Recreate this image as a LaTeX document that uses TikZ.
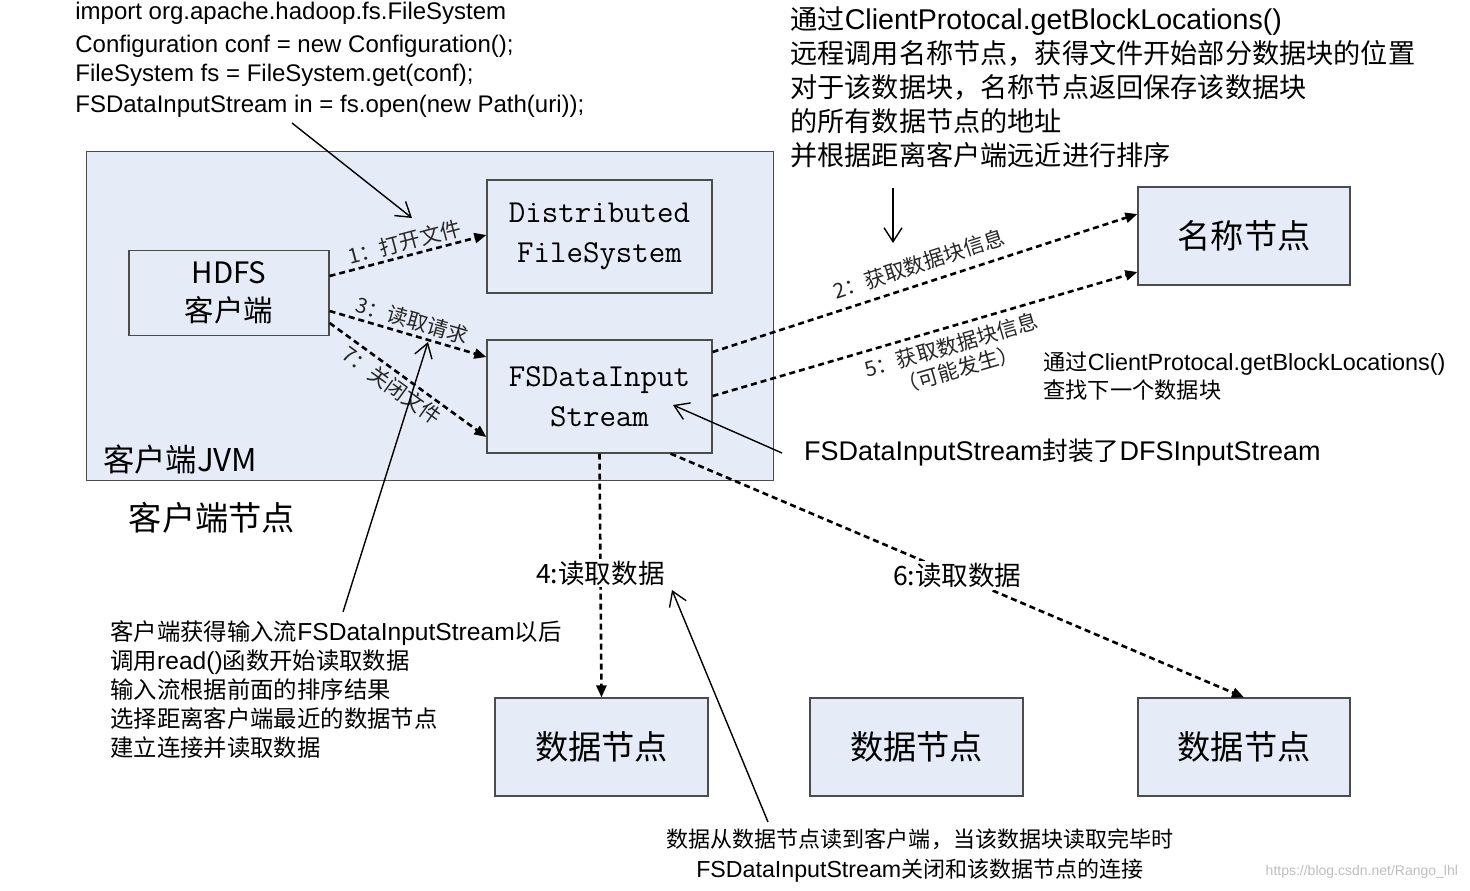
\documentclass[tikz,border=0pt]{standalone}
\usepackage{fontspec}
\setmainfont{Liberation Sans}
\newfontfamily\cjk{Noto Sans CJK SC}[Scale=0.95]
\usetikzlibrary{arrows.meta}
\definecolor{boxfill}{HTML}{E6ECF7}
\begin{document}
\begin{tikzpicture}[x=0.5pt,y=-0.5pt,
  bx/.style={draw=black!70,fill=boxfill,line width=0.6pt,inner sep=0pt},
  dsh/.style={dashed,dash pattern=on 3pt off 2pt,line width=1.3pt,-{Triangle[length=6pt,width=5pt]}},
  sol/.style={line width=0.7pt,-{Straight Barb[length=7pt,width=9pt]}},
  lab/.style={font=\cjk\fontsize{11}{12.5}\selectfont,text=black!85,inner sep=1.5pt},
  note/.style={font=\fontsize{12}{14.5}\selectfont,align=left,anchor=north west,inner sep=0pt},
  ttx/.style={font=\ttfamily\fontsize{16}{20}\selectfont,align=center}]
\useasboundingbox (0,0) rectangle (1470,890);
\fill[white] (0,0) rectangle (1470,890);
\node[bx,minimum width=343.5pt,minimum height=164.5pt,anchor=north west] (jvm) at (86,151) {};
\node[anchor=west,font=\cjk\fontsize{16.5}{18}\selectfont] (jvml) at (96,460) {客户端JVM};
\node[font=\cjk\fontsize{17.5}{18}\selectfont] (cn) at (212,518) {客户端节点};
\node[bx,minimum width=100pt,minimum height=42.5pt,align=center,font=\cjk\fontsize{15.5}{19}\selectfont] (hc) at (229,293) {HDFS\\客户端};
\node[bx,minimum width=112.5pt,minimum height=56.5pt,ttx] (dfs) at (599.5,236.5) {Distributed\\FileSystem};
\node[bx,minimum width=112.5pt,minimum height=56.5pt,ttx] (fs) at (599.5,396.5) {FSDataInput\\Stream};
\node[bx,minimum width=106pt,minimum height=49pt,font=\cjk\fontsize{17.5}{18}\selectfont] (nn) at (1244,236) {名称节点};
\node[bx,minimum width=106.5pt,minimum height=49pt,font=\cjk\fontsize{17.5}{18}\selectfont] (d1) at (601.5,747) {数据节点};
\node[bx,minimum width=106.5pt,minimum height=49pt,font=\cjk\fontsize{17.5}{18}\selectfont] (d2) at (916.5,747) {数据节点};
\node[bx,minimum width=106pt,minimum height=49pt,font=\cjk\fontsize{17.5}{18}\selectfont] (d3) at (1244,747) {数据节点};
% dashed arrows
\draw[dsh] (hc.east|-0,276) -- (dfs.west|-0,235) node[lab,midway,above,sloped] {1：打开文件};
\draw[dsh] (hc.east|-0,311) -- (fs.west|-0,357) node[lab,midway,above,sloped] {3：读取请求};
\draw[dsh] (hc.east|-0,323) -- (fs.west|-0,437) node[lab,pos=0.45,below,sloped] {7：关闭文件};
\draw[dsh] (fs.east|-0,352) -- (nn.west|-0,214) node[lab,pos=0.5,above=3pt,sloped] {2：获取数据块信息};
\draw[dsh] (fs.east|-0,396) -- (nn.west|-0,272) node[lab,pos=0.55,below=2pt,sloped,align=center] {5：获取数据块信息\\（可能发生）};
\draw[dsh] (fs.south) -- (d1.north) node[pos=0.49,fill=white,inner sep=1pt,font=\cjk\fontsize{14}{15}\selectfont] {4:读取数据};
\draw[dsh] (fs.south east)++(-42,0) -- (d3.north) node[pos=0.5,fill=white,inner sep=1pt,font=\cjk\fontsize{14}{15}\selectfont] {6:读取数据};
% notes
\node[note] (code) at (75,2) {import org.apache.hadoop.fs.FileSystem\\[2pt]Configuration conf = new Configuration();\\FileSystem fs = FileSystem.get(conf);\\[1pt]FSDataInputStream in = fs.open(new Path(uri));};
\node[note,font=\cjk\fontsize{14.3}{17}\selectfont] (rt) at (790,6) {通过{\rmfamily ClientProtocal.getBlockLocations()}\\远程调用名称节点，获得文件开始部分数据块的位置\\对于该数据块，名称节点返回保存该数据块\\的所有数据节点的地址\\并根据距离客户端远近进行排序};
\node[note,font=\cjk\fontsize{11.7}{14}\selectfont] (r2) at (1043,351) {通过{\rmfamily ClientProtocal.getBlockLocations()}\\查找下一个数据块};
\node[anchor=west,font=\fontsize{13.5}{15}\selectfont] (wrap) at (797,453) {FSDataInputStream{\cjk 封装了}DFSInputStream};
\node[note,font=\cjk\fontsize{12.3}{14.5}\selectfont] (lb) at (110,620) {客户端获得输入流{\rmfamily FSDataInputStream}以后\\调用{\rmfamily read()}函数开始读取数据\\输入流根据前面的排序结果\\选择距离客户端最近的数据节点\\建立连接并读取数据};
\node[note,font=\cjk\fontsize{11.6}{15}\selectfont,align=center,anchor=north] (bt) at (920,828) {数据从数据节点读到客户端，当该数据块读取完毕时\\{\rmfamily FSDataInputStream}关闭和该数据节点的连接};
\node[anchor=south east,font=\fontsize{7}{8}\selectfont,text=black!25] (wm) at (1465,885) {https://blog.csdn.net/Rango\_lhl};
% solid pointers
\coordinate (c1) at (292,123); \coordinate (c1e) at (412,218);
\draw[sol] (c1) -- (c1e);
\coordinate (c2) at (893,188); \coordinate (c2e) at (893,243);
\draw[sol] (c2) -- (c2e);
\coordinate (c3) at (343,612); \coordinate (c3e) at (428,342);
\draw[sol] (c3) -- (c3e);
\coordinate (c4) at (782,453); \coordinate (c4e) at (673,405);
\draw[sol] (c4) -- (c4e);
\coordinate (c5) at (768,822); \coordinate (c5e) at (672,590);
\draw[sol] (c5) -- (c5e);
\end{tikzpicture}
\end{document}
